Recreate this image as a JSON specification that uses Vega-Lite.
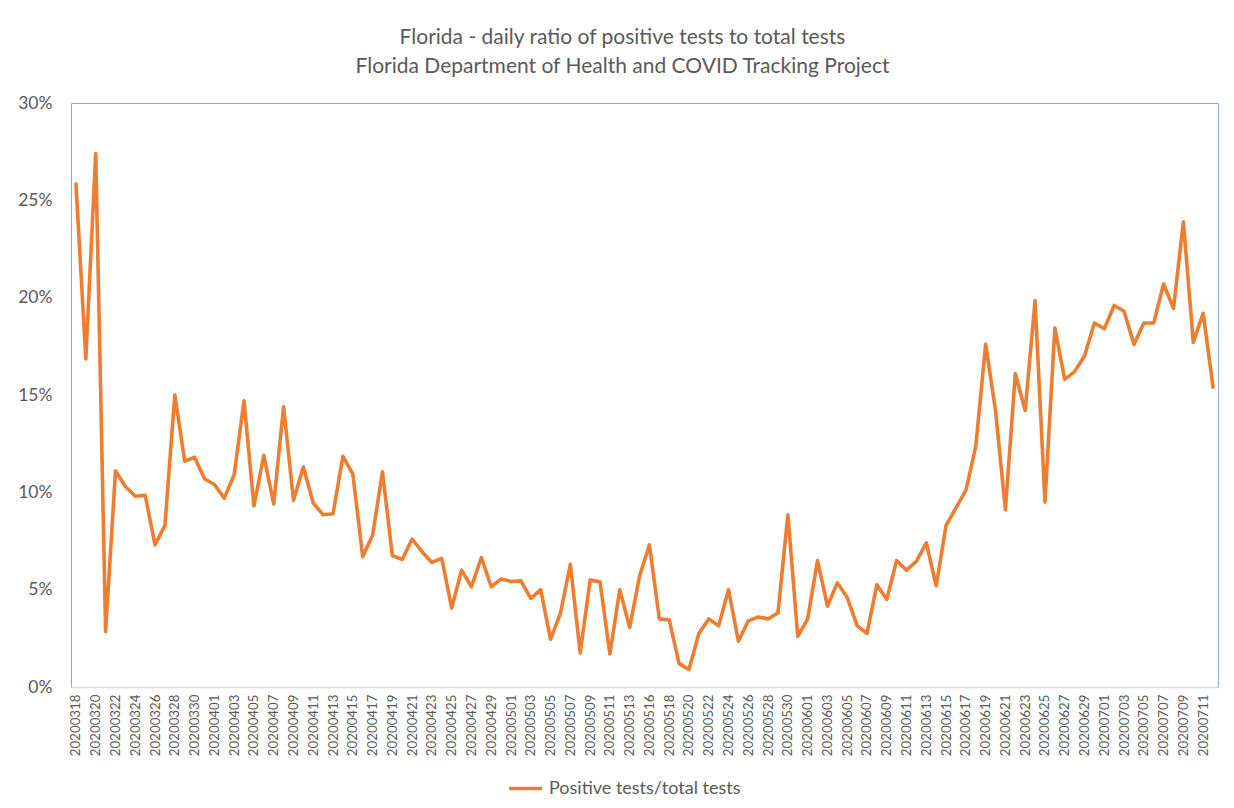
{
  "$schema": "https://vega.github.io/schema/vega-lite/v6.json",
  "width": 1147,
  "height": 584,
  "autosize": {"type": "none"},
  "padding": {"left": 71, "top": 103, "right": 16, "bottom": 121},
  "background": "white",
  "title": {
    "text": ["Florida - daily ratio of positive tests to total tests", "Florida Department of Health and COVID Tracking Project"],
    "font": "Lato",
    "fontSize": 21,
    "fontWeight": "normal",
    "color": "#595959",
    "lineHeight": 29,
    "anchor": "middle",
    "frame": "group",
    "dx": -22,
    "offset": 17
  },
  "data": {
    "values": [
      {"date": "20200318", "ratio": 0.2585},
      {"date": "20200319", "ratio": 0.1685},
      {"date": "20200320", "ratio": 0.274},
      {"date": "20200321", "ratio": 0.0285},
      {"date": "20200322", "ratio": 0.111},
      {"date": "20200323", "ratio": 0.103},
      {"date": "20200324", "ratio": 0.098},
      {"date": "20200325", "ratio": 0.0985},
      {"date": "20200326", "ratio": 0.073},
      {"date": "20200327", "ratio": 0.083},
      {"date": "20200328", "ratio": 0.150},
      {"date": "20200329", "ratio": 0.116},
      {"date": "20200330", "ratio": 0.118},
      {"date": "20200331", "ratio": 0.107},
      {"date": "20200401", "ratio": 0.104},
      {"date": "20200402", "ratio": 0.097},
      {"date": "20200403", "ratio": 0.109},
      {"date": "20200404", "ratio": 0.147},
      {"date": "20200405", "ratio": 0.093},
      {"date": "20200406", "ratio": 0.119},
      {"date": "20200407", "ratio": 0.094},
      {"date": "20200408", "ratio": 0.144},
      {"date": "20200409", "ratio": 0.096},
      {"date": "20200410", "ratio": 0.113},
      {"date": "20200411", "ratio": 0.0945},
      {"date": "20200412", "ratio": 0.0885},
      {"date": "20200413", "ratio": 0.089},
      {"date": "20200414", "ratio": 0.1185},
      {"date": "20200415", "ratio": 0.1095},
      {"date": "20200416", "ratio": 0.067},
      {"date": "20200417", "ratio": 0.078},
      {"date": "20200418", "ratio": 0.1105},
      {"date": "20200419", "ratio": 0.0675},
      {"date": "20200420", "ratio": 0.0655},
      {"date": "20200421", "ratio": 0.076},
      {"date": "20200422", "ratio": 0.0695},
      {"date": "20200423", "ratio": 0.064},
      {"date": "20200424", "ratio": 0.066},
      {"date": "20200425", "ratio": 0.0405},
      {"date": "20200426", "ratio": 0.060},
      {"date": "20200427", "ratio": 0.0515},
      {"date": "20200428", "ratio": 0.0665},
      {"date": "20200429", "ratio": 0.0515},
      {"date": "20200430", "ratio": 0.0555},
      {"date": "20200501", "ratio": 0.0542},
      {"date": "20200502", "ratio": 0.0545},
      {"date": "20200503", "ratio": 0.0455},
      {"date": "20200504", "ratio": 0.050},
      {"date": "20200505", "ratio": 0.0245},
      {"date": "20200506", "ratio": 0.038},
      {"date": "20200507", "ratio": 0.063},
      {"date": "20200508", "ratio": 0.0175},
      {"date": "20200509", "ratio": 0.055},
      {"date": "20200510", "ratio": 0.054},
      {"date": "20200511", "ratio": 0.017},
      {"date": "20200512", "ratio": 0.050},
      {"date": "20200513", "ratio": 0.0305},
      {"date": "20200514", "ratio": 0.057},
      {"date": "20200516", "ratio": 0.073},
      {"date": "20200517", "ratio": 0.035},
      {"date": "20200518", "ratio": 0.0345},
      {"date": "20200519", "ratio": 0.012},
      {"date": "20200520", "ratio": 0.009},
      {"date": "20200521", "ratio": 0.0275},
      {"date": "20200522", "ratio": 0.035},
      {"date": "20200523", "ratio": 0.0315},
      {"date": "20200524", "ratio": 0.050},
      {"date": "20200525", "ratio": 0.0235},
      {"date": "20200526", "ratio": 0.034},
      {"date": "20200527", "ratio": 0.036},
      {"date": "20200528", "ratio": 0.035},
      {"date": "20200529", "ratio": 0.038},
      {"date": "20200530", "ratio": 0.0885},
      {"date": "20200531", "ratio": 0.026},
      {"date": "20200601", "ratio": 0.035},
      {"date": "20200602", "ratio": 0.065},
      {"date": "20200603", "ratio": 0.0415},
      {"date": "20200604", "ratio": 0.0535},
      {"date": "20200605", "ratio": 0.046},
      {"date": "20200606", "ratio": 0.0315},
      {"date": "20200607", "ratio": 0.0275},
      {"date": "20200608", "ratio": 0.0525},
      {"date": "20200609", "ratio": 0.045},
      {"date": "20200610", "ratio": 0.065},
      {"date": "20200611", "ratio": 0.060},
      {"date": "20200612", "ratio": 0.0645},
      {"date": "20200613", "ratio": 0.074},
      {"date": "20200614", "ratio": 0.052},
      {"date": "20200615", "ratio": 0.083},
      {"date": "20200616", "ratio": 0.092},
      {"date": "20200617", "ratio": 0.101},
      {"date": "20200618", "ratio": 0.1235},
      {"date": "20200619", "ratio": 0.176},
      {"date": "20200620", "ratio": 0.142},
      {"date": "20200621", "ratio": 0.091},
      {"date": "20200622", "ratio": 0.161},
      {"date": "20200623", "ratio": 0.142},
      {"date": "20200624", "ratio": 0.1985},
      {"date": "20200625", "ratio": 0.095},
      {"date": "20200626", "ratio": 0.1845},
      {"date": "20200627", "ratio": 0.158},
      {"date": "20200628", "ratio": 0.162},
      {"date": "20200629", "ratio": 0.170},
      {"date": "20200630", "ratio": 0.187},
      {"date": "20200701", "ratio": 0.184},
      {"date": "20200702", "ratio": 0.196},
      {"date": "20200703", "ratio": 0.193},
      {"date": "20200704", "ratio": 0.176},
      {"date": "20200705", "ratio": 0.187},
      {"date": "20200706", "ratio": 0.187},
      {"date": "20200707", "ratio": 0.207},
      {"date": "20200708", "ratio": 0.1945},
      {"date": "20200709", "ratio": 0.239},
      {"date": "20200710", "ratio": 0.177},
      {"date": "20200711", "ratio": 0.192},
      {"date": "20200712", "ratio": 0.154}
    ]
  },
  "mark": {"type": "line", "strokeWidth": 3.6, "strokeJoin": "round", "strokeCap": "round"},
  "encoding": {
    "x": {
      "field": "date",
      "type": "nominal",
      "sort": null,
      "scale": {"type": "point", "padding": 0.5},
      "axis": {
        "title": null,
        "values": ["20200318","20200320","20200322","20200324","20200326","20200328","20200330","20200401","20200403","20200405","20200407","20200409","20200411","20200413","20200415","20200417","20200419","20200421","20200423","20200425","20200427","20200429","20200501","20200503","20200505","20200507","20200509","20200511","20200513","20200516","20200518","20200520","20200522","20200524","20200526","20200528","20200530","20200601","20200603","20200605","20200607","20200609","20200611","20200613","20200615","20200617","20200619","20200621","20200623","20200625","20200627","20200629","20200701","20200703","20200705","20200707","20200709","20200711"],
        "labelAngle": -90,
        "labelFont": "Lato",
        "labelFontSize": 13.3,
        "labelColor": "#595959",
        "labelPadding": 7,
        "ticks": false,
        "domainColor": "#D9D9D9",
        "domainWidth": 1.5,
        "grid": false
      }
    },
    "y": {
      "field": "ratio",
      "type": "quantitative",
      "scale": {"domain": [0, 0.3], "nice": false},
      "axis": {
        "title": null,
        "values": [0, 0.05, 0.1, 0.15, 0.2, 0.25, 0.3],
        "format": ".0%",
        "labelFont": "Lato",
        "labelFontSize": 17.5,
        "labelColor": "#595959",
        "labelPadding": 19,
        "ticks": false,
        "domain": false,
        "grid": false
      }
    },
    "color": {
      "datum": "Positive tests/total tests",
      "type": "nominal",
      "scale": {"range": ["#ED7D31"]},
      "legend": {
        "title": null,
        "orient": "none",
        "legendX": 436,
        "legendY": 667,
        "padding": 0,
        "symbolType": "stroke",
        "symbolSize": 1089,
        "symbolStrokeWidth": 3.6,
        "labelFont": "Lato",
        "labelFontSize": 18,
        "labelLimit": 0,
        "labelColor": "#595959",
        "labelOffset": 5
      }
    }
  },
  "config": {
    "view": {"stroke": "#8EA9C8", "strokeWidth": 1}
  }
}
